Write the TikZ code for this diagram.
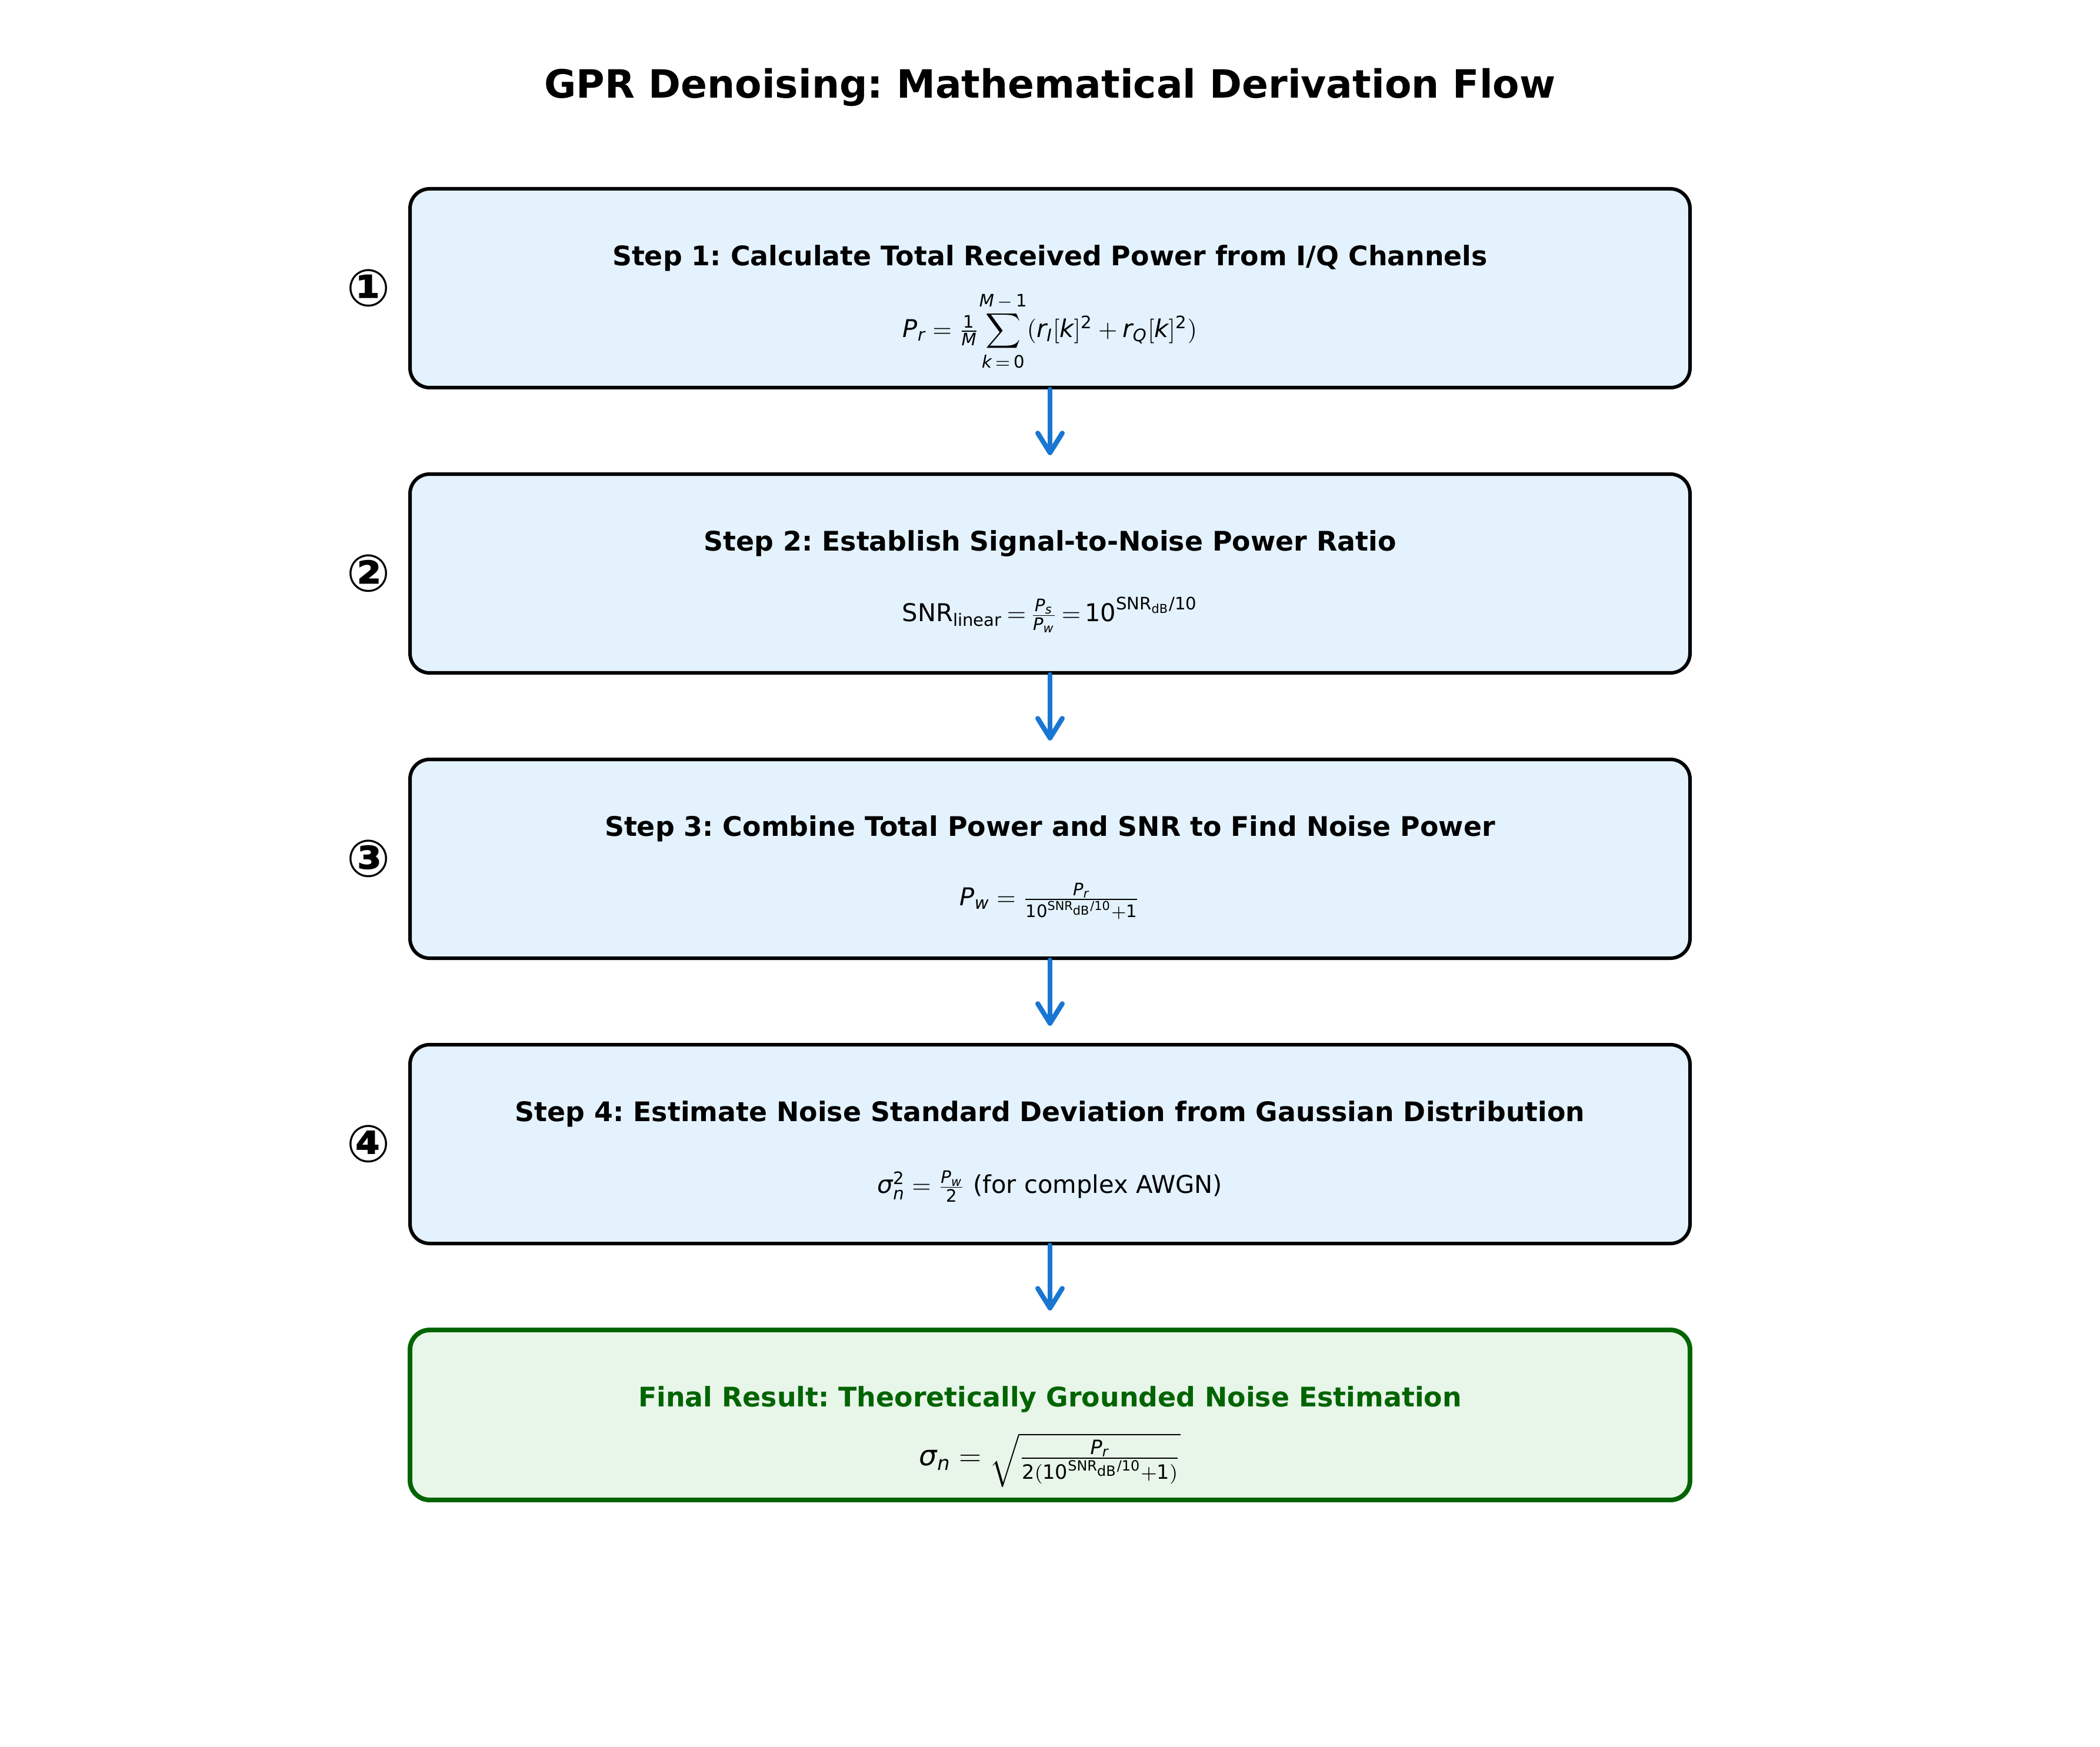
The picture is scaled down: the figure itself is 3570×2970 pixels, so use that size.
\documentclass[tikz,border=0pt]{standalone}
\usepackage{amsmath}
\usepackage{fontspec}
\setmainfont{DejaVu Sans}
\usetikzlibrary{arrows.meta}
\definecolor{boxblue}{HTML}{E3F2FD}
\definecolor{boxgreen}{HTML}{E8F5E9}
\definecolor{darkgrn}{HTML}{006400}
\definecolor{flowblue}{HTML}{1976D2}
\newcommand\vi[1]{\text{\normalfont\itshape #1}}
\newcommand\vu[1]{\text{\normalfont #1}}
\frenchspacing
\begin{document}
\begin{tikzpicture}[x=0.24pt,y=-0.24pt,
  stepbox/.style={draw=black, line width=1.44pt, fill=boxblue, rounded corners=8pt,
    minimum width=522.24pt, minimum height=81.12pt, inner sep=0pt},
  finalbox/.style={draw=darkgrn, line width=1.9pt, fill=boxgreen, rounded corners=8pt,
    minimum width=522.24pt, minimum height=69.36pt, inner sep=0pt},
  heading/.style={font=\fontsize{11}{13}\selectfont\bfseries, inner sep=0pt},
  formula/.style={font=\fontsize{10}{12}\selectfont, inner sep=0pt},
  num/.style={font=\fontsize{21}{24}\selectfont\bfseries, inner sep=0pt},
  flow/.style={draw=flowblue, line width=2pt, line cap=round,
    -{Straight Barb[length=8pt,width=10pt,round]}, shorten >=7pt}]
\useasboundingbox (0,0) rectangle (3570,2970);
\node[font=\fontsize{15.9}{19}\selectfont\bfseries] (title) at (1785,148) {GPR Denoising: Mathematical Derivation Flow};

\node[stepbox] (b1) at (1785,490) {};
\node[stepbox] (b2) at (1785,975) {};
\node[stepbox] (b3) at (1785,1460) {};
\node[stepbox] (b4) at (1785,1945) {};
\node[finalbox] (b5) at (1785,2405.5) {};

\node[num] (n1) at (627,490) {①};
\node[num] (n2) at (627,975) {②};
\node[num] (n3) at (627,1460) {③};
\node[num] (n4) at (627,1945) {④};

\node[heading] (h1) at (1785,439) {Step 1: Calculate Total Received Power from I/Q Channels};
\node[formula] (f1) at (1785,563) {$\vi{P}_{\vi{r}} = \frac{\vu{1}}{\vi{M}}{\displaystyle\sum_{\vi{k}\,=\,\vu{0}}^{\vi{M}\,-\,\vu{1}}}(\vi{r}_{\vi{I}}[\vi{k}]^{\vu{2}} + \vi{r}_{\vi{Q}}[\vi{k}]^{\vu{2}})$};

\node[heading] (h2) at (1785,924) {Step 2: Establish Signal-to-Noise Power Ratio};
\node[formula] (f2) at (1785,1045) {$\vu{SNR}_{\vu{linear}}\,{=}\,\frac{\vi{P}_{\vi{s}}}{\vi{P}_{\vi{w}}}\,{=}\,\vu{10}^{\vu{SNR}_{\vu{dB}}\vu{/10}}$};

\node[heading] (h3) at (1785,1409) {Step 3: Combine Total Power and SNR to Find Noise Power};
\node[formula] (f3) at (1785,1532) {$\vi{P}_{\vi{w}} = \frac{\vi{P}_{\vi{r}}}{\vu{10}^{\vu{SNR}_{\vu{dB}}\vu{/10}}+\vu{1}}$};

\node[heading] (h4) at (1785,1894) {Step 4: Estimate Noise Standard Deviation from Gaussian Distribution};
\node[formula] (f4) at (1785,2017) {$\vi{σ}^{\vu{2}}_{\vi{n}} = \frac{\vi{P}_{\vi{w}}}{\vu{2}}$ (for complex AWGN)};

\node[heading, text=darkgrn] (h5) at (1785,2379) {Final Result: Theoretically Grounded Noise Estimation};
\node[formula, font=\fontsize{11.5}{14}\selectfont] (f5) at (1785,2482) {$\vi{σ}_{\vi{n}} = \sqrt{\frac{\vi{P}_{\vi{r}}}{\vu{2}(\vu{10}^{\vu{SNR}_{\vu{dB}}\vu{/10}}+\vu{1})}}$};

\draw[flow] (b1.south) -- (b2.north);
\draw[flow] (b2.south) -- (b3.north);
\draw[flow] (b3.south) -- (b4.north);
\draw[flow] (b4.south) -- (b5.north);
\end{tikzpicture}
\end{document}
